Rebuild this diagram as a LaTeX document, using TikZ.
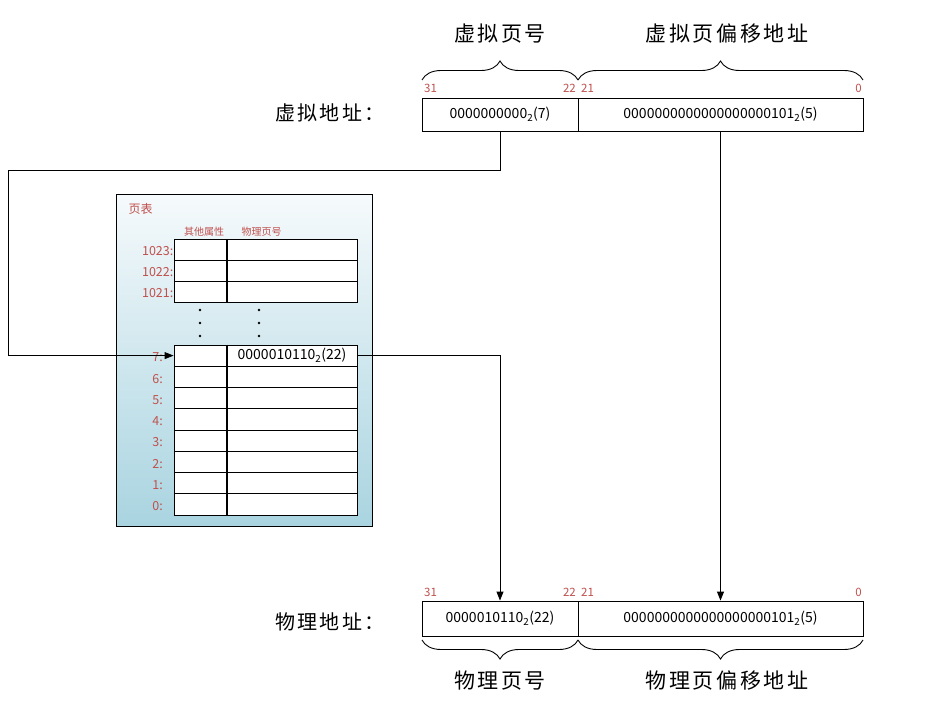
\documentclass[tikz,border=0pt]{standalone}
\usepackage{fontspec}
\setmainfont{Noto Sans CJK SC}
\newfontfamily\spacedcjk[LetterSpace=12]{Noto Sans CJK SC}
\usetikzlibrary{decorations.pathreplacing,arrows.meta}
\definecolor{bitred}{HTML}{C0504D}
\definecolor{ptop}{HTML}{F6FAFC}
\definecolor{pbot}{HTML}{A9D4E0}
\begin{document}
\begin{tikzpicture}[x=1pt,y=-1pt,
  seg/.style={draw,line width=0.9pt,minimum height=33pt,inner sep=0pt,font=\fontsize{14}{16}\selectfont},
  bitlbl/.style={text=bitred,font=\fontsize{11.5}{13}\selectfont,inner sep=0pt},
  bigcjk/.style={font=\spacedcjk\fontsize{21}{24}\selectfont,inner sep=0pt},
  addrlbl/.style={font=\spacedcjk\fontsize{20}{23}\selectfont,inner sep=0pt},
  bracestyle/.style={decorate,decoration={brace,amplitude=19pt,aspect=0.5},line width=0.9pt},
  lcell/.style={draw,fill=white,line width=0.9pt,minimum width=53pt,minimum height=21.25pt,inner sep=0pt},
  rcell/.style={draw,fill=white,line width=0.9pt,minimum width=130pt,minimum height=21.25pt,inner sep=0pt,font=\fontsize{14}{16}\selectfont},
  rowlbl/.style={text=bitred,font=\fontsize{12.5}{14}\selectfont,inner sep=0pt,anchor=east},
  hdr/.style={text=bitred,font=\fontsize{10}{12}\selectfont,inner sep=0pt},
  conn/.style={line width=0.9pt,-{Triangle[length=9pt,width=7pt]}}
]
\useasboundingbox (0,0) rectangle (947,720);

% ---------- virtual address ----------
\node[seg,minimum width=156pt] (va1) at (500,114.5) {0000000000\textsubscript{2}(7)};
\node[seg,minimum width=285pt] (va2) at (720.5,114.5) {0000000000000000000101\textsubscript{2}(5)};
\node[addrlbl] (valbl) at (330,113) {虚拟地址：};
\node[bitlbl,anchor=west] (v31) at (424,88) {31};
\node[bitlbl,anchor=east] (v22) at (576,88) {22};
\node[bitlbl,anchor=west] (v21) at (581,88) {21};
\node[bitlbl,anchor=east] (v0) at (862,88) {0};
\draw[bracestyle] (422,80) -- (578,80);
\draw[bracestyle] (578,80) -- (863,80);
\node[bigcjk] (vpn) at (500,34) {虚拟页号};
\node[bigcjk] (voff) at (727,34) {虚拟页偏移地址};

% ---------- physical address ----------
\node[seg,minimum width=156pt,minimum height=35pt] (pa1) at (500,618.5) {0000010110\textsubscript{2}(22)};
\node[seg,minimum width=285pt,minimum height=35pt] (pa2) at (720.5,618.5) {0000000000000000000101\textsubscript{2}(5)};
\node[addrlbl] (palbl) at (330,622) {物理地址：};
\node[bitlbl,anchor=west] (p31) at (424,592) {31};
\node[bitlbl,anchor=east] (p22) at (576,592) {22};
\node[bitlbl,anchor=west] (p21) at (581,592) {21};
\node[bitlbl,anchor=east] (p0) at (862,592) {0};
\draw[bracestyle] (578,640) -- (422,640);
\draw[bracestyle] (863,640) -- (578,640);
\node[bigcjk] (ppn) at (500,681) {物理页号};
\node[bigcjk] (poff) at (727,681) {物理页偏移地址};

% ---------- page table ----------
\draw[line width=0.9pt,top color=ptop,bottom color=pbot] (116,194) rectangle (372,526);
\node[text=bitred,font=\fontsize{12}{14}\selectfont,inner sep=0pt] (pt) at (140.5,209) {页表};
\node[hdr] (h1) at (204,232) {其他属性};
\node[hdr] (h2) at (261.5,232) {物理页号};

\foreach \n [count=\k from 0] in {1023,1022,1021} {
  \node[lcell] (L\n) at (200.5,{249.6+21.25*\k}) {};
  \node[rcell] (R\n) at (292,{249.6+21.25*\k}) {};
  \node[rowlbl] at (173.5,{251+21.25*\k}) {\n:};
}
\foreach \n [count=\k from 0] in {7,6,5,4,3,2,1,0} {
  \node[lcell] (L\n) at (200.5,{355.6+21.25*\k}) {};
  \node[rcell] (R\n) at (292,{355.6+21.25*\k}) {};
  \node[rowlbl] at (163,{357.5+21.25*\k}) {\n:};
}
\node[font=\fontsize{14}{16}\selectfont,inner sep=0pt] (e7) at (R7) {0000010110\textsubscript{2}(22)};
\draw[line width=2pt] (L1023.north east) -- (L1021.south east);
\draw[line width=2pt] (L7.north east) -- (L0.south east);
\foreach \yy in {310,323,336} {
  \fill (200,\yy) circle (1.3pt);
  \fill (259,\yy) circle (1.3pt);
}

% ---------- connectors ----------
\coordinate (c1) at (8,170);
\draw[conn] (va1.south) |- (c1) |- (L7.west);
\draw[conn] (R7.east) -| (pa1.north);
\draw[conn] (va2.south) -- (pa2.north);
\end{tikzpicture}
\end{document}
